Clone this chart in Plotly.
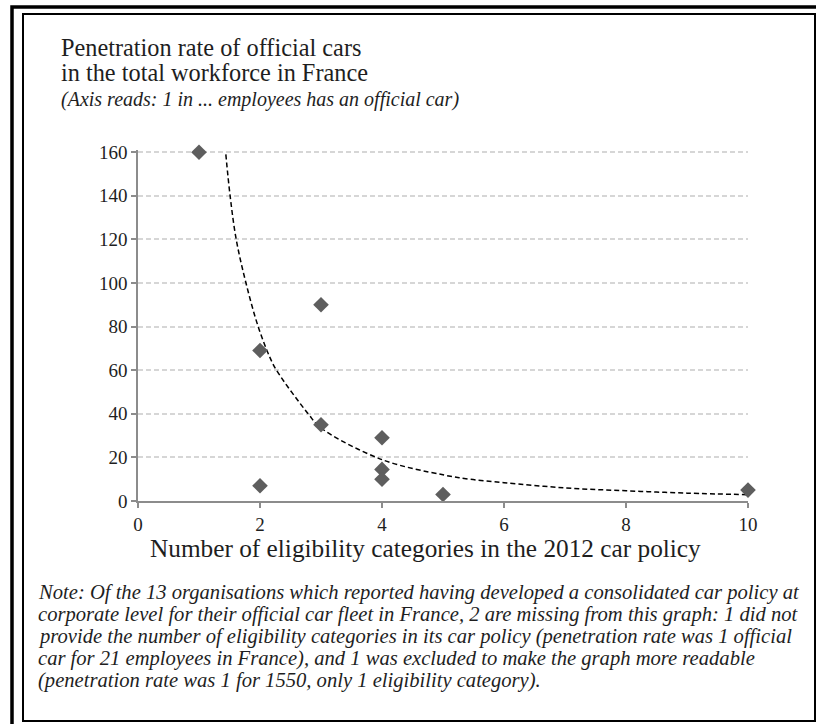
import plotly.graph_objects as go

# eligibility categories vs "1 in ... employees has an official car"
categories = [1, 2, 2, 3, 3, 4, 4, 4, 5, 10]
employees_per_car = [160, 69, 7, 90, 35, 29, 14.5, 10, 3, 5]

# dashed power trendline
trend_x = [1.44, 1.51, 1.61, 1.77, 1.97, 2.16, 2.27, 2.79, 3.0, 4.0, 5.0, 5.44, 6, 7, 8, 9, 10]
trend_y = [159, 140, 120, 100, 80, 66, 60, 40, 33.5, 19, 12, 10, 8.4, 6, 4.7, 3.6, 2.9]

y_ticks = [0, 20, 40, 60, 80, 100, 120, 140, 160]
x_ticks = [0, 2, 4, 6, 8, 10]

W, H = 816, 724
L, R, T, B = 138, 68, 150, 223
PW, PH = W - L - R, H - T - B


def px(x):
    return (x - L) / PW


def py(y):
    return 1 - (y - T) / PH


SERIF = "Liberation Serif"
INK = "#1e1e1e"

fig = go.Figure()

fig.add_trace(go.Scatter(
    x=trend_x, y=trend_y, mode="lines",
    line=dict(color="black", width=1.5, dash="5px,3px", shape="spline"),
    hoverinfo="skip", showlegend=False))

fig.add_trace(go.Scatter(
    x=categories, y=employees_per_car, mode="markers",
    marker=dict(symbol="diamond", size=12, color="#5e5e5e"),
    showlegend=False, cliponaxis=False))

fig.update_xaxes(
    range=[0, 10], tickvals=x_ticks, showgrid=False, zeroline=False,
    showline=True, linecolor="#8c8c8c", linewidth=1.5,
    ticks="outside", ticklen=5, tickcolor="#8c8c8c", tickwidth=1.5,
    tickfont=dict(family=SERIF, size=19, color=INK))

fig.update_yaxes(
    range=[0, 161], tickvals=y_ticks, showgrid=True, gridcolor="#d6d6d6",
    griddash="5px,3px", gridwidth=1.5, zeroline=False,
    showline=True, linecolor="#8c8c8c", linewidth=1.5,
    ticks="outside", ticklen=5, tickcolor="#8c8c8c", tickwidth=1.5,
    tickfont=dict(family=SERIF, size=19, color=INK))

# x axis title placed by hand so it sits where the reference has it
fig.add_annotation(
    text="Number of eligibility categories in the 2012 car policy",
    x=px(148), y=py(548), xref="paper", yref="paper",
    xanchor="left", yanchor="middle", showarrow=False,
    font=dict(family=SERIF, size=25.3, color=INK))

title_lines = [
    ("Penetration rate of official cars", 48, 24.3, False),
    ("in the total workforce in France", 73, 24.3, False),
    ("(Axis reads: 1 in ... employees has an official car)", 99, 20, True),
]
for text, yc, size, ital in title_lines:
    fig.add_annotation(
        text=f"<i>{text}</i>" if ital else text,
        x=px(59), y=py(yc), xref="paper", yref="paper",
        xanchor="left", yanchor="middle", showarrow=False,
        font=dict(family=SERIF, size=size, color=INK))

note_lines = [
    "Note: Of the 13 organisations which reported having developed a consolidated car policy at",
    "corporate level for their official car fleet in France, 2 are missing from this graph: 1 did not",
    "provide the number of eligibility categories in its car policy (penetration rate was 1 official",
    "car for 21 employees in France), and 1 was excluded to make the graph more readable",
    "(penetration rate was 1 for 1550, only 1 eligibility category).",
]
for i, line in enumerate(note_lines):
    fig.add_annotation(
        text=f"<i>{line}</i>",
        x=px(36), y=py(592 + 22 * i), xref="paper", yref="paper",
        xanchor="left", yanchor="middle", showarrow=False,
        font=dict(family=SERIF, size=20.6, color=INK))

# double frame around the whole chart
fig.add_shape(type="rect", xref="paper", yref="paper",
              x0=px(12), x1=px(830), y0=py(7), y1=py(740),
              line=dict(color="black", width=3.5), layer="above")
fig.add_shape(type="rect", xref="paper", yref="paper",
              x0=px(23), x1=px(815), y0=py(14), y1=py(721),
              line=dict(color="black", width=2), layer="above")

fig.update_layout(
    width=W, height=H, margin=dict(l=L, r=R, t=T, b=B),
    paper_bgcolor="white", plot_bgcolor="white",
    hovermode=False, showlegend=False)

fig.write_html("out.html", config={"displayModeBar": False},
               post_script="document.body.style.margin='0px';")
